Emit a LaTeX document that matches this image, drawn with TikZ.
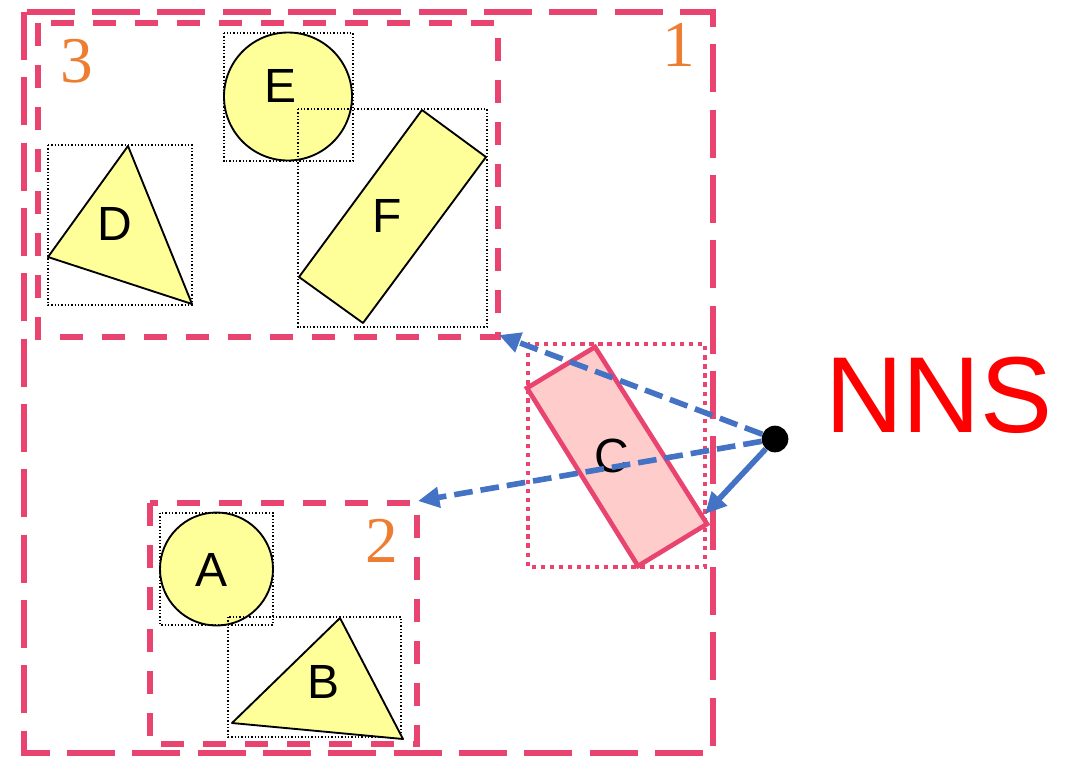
\documentclass[tikz,border=0pt]{standalone}
\usepackage{fontspec}
\setmainfont{Liberation Serif}
\newfontfamily\arialf{Liberation Sans}
\usetikzlibrary{arrows.meta}
\definecolor{pinkr}{HTML}{E8446F}
\definecolor{lpink}{HTML}{FFCCCC}
\definecolor{yel}{HTML}{FFFF99}
\definecolor{orng}{HTML}{ED7D31}
\definecolor{blu}{HTML}{4472C4}
\definecolor{nnsred}{HTML}{FF0000}
\tikzset{
  bigdash/.style={draw=pinkr, line width=4.2pt, dash pattern=on 36pt off 13pt},
  meddash/.style={draw=pinkr, line width=4pt, dash pattern=on 17.5pt off 14pt},
  bbox/.style={draw=black, line width=1.1pt, dash pattern=on 1.1pt off 1.4pt},
  shp/.style={draw=black, fill=yel, line width=1.4pt, line join=round},
  lett/.style={font=\arialf\fontsize{36}{36}\selectfont, inner sep=0pt},
  digit/.style={font=\fontsize{49}{49}\selectfont, text=orng, inner sep=0pt},
  barrow/.style={draw=blu, line width=4.2pt, -{Triangle[length=16pt,width=15pt]}},
  bdash/.style={barrow, dash pattern=on 14pt off 6pt},
}
\begin{document}
\begin{tikzpicture}[x=0.75pt,y=-0.75pt]
\useasboundingbox (0,0) rectangle (1066,758);
% region rectangles
\draw[bigdash] (24,12) rectangle (713,753);
\draw[meddash] (38,23) rectangle (498,337);
\draw[meddash] (150,503) rectangle (417,744);
\node[digit] (n1) at (679,45) {1};
\node[digit] (n3) at (77,61) {3};
\node[digit] (n2) at (382,541) {2};
% D
\draw[bbox] (48,145) rectangle (192,305);
\draw[shp] (48,257) -- (128,146) -- (192,304) -- cycle;
\node[lett] (D) at (115,224) {D};
% E
\draw[bbox] (224,33) rectangle (353,161);
\draw[shp] (288,96.5) circle[radius=64*0.75pt];
% F
\draw[bbox] (298,109) rectangle (487,327);
\draw[shp] (422,110) -- (486,157) -- (363,323) -- (299,277) -- cycle;
\node[lett] (F) at (387,216) {F};
\node[lett] (E) at (281,86) {E};
% A
\draw[shp] (216.5,569) circle[radius=56.5*0.75pt];
\draw[bbox] (160,513) rectangle (273,625);
\node[lett] (A) at (212,570) {A};
% B
\draw[bbox] (228,617) rectangle (401,737);
\draw[shp] (232,723) -- (340,618) -- (403,739) -- cycle;
\node[lett] (B) at (324,682) {B};
% C
\draw[draw=pinkr, line width=3.3pt, dash pattern=on 3.2pt off 3.6pt] (528,344) rectangle (705,567);
\draw[draw=pinkr, fill=lpink, line width=3.5pt, line join=miter] (595,347) -- (707,524) -- (638,566) -- (527,388) -- cycle;
\node[lett] (C) at (612,456) {C};
% query point and arrows
\coordinate (t3) at (499,335);
\coordinate (t2) at (418,501);
\coordinate (tc) at (705,514);
\node[circle, fill=black, minimum size=20pt, inner sep=0pt] (q) at (775,439) {};
\draw[bdash] (q) -- (t3);
\draw[bdash] (q) -- (t2);
\draw[barrow] (q) -- (tc);
\node[font=\arialf\fontsize{81}{81}\selectfont, text=nnsred, inner sep=0pt] (nns) at (939,395) {NNS};
\end{tikzpicture}
\end{document}
